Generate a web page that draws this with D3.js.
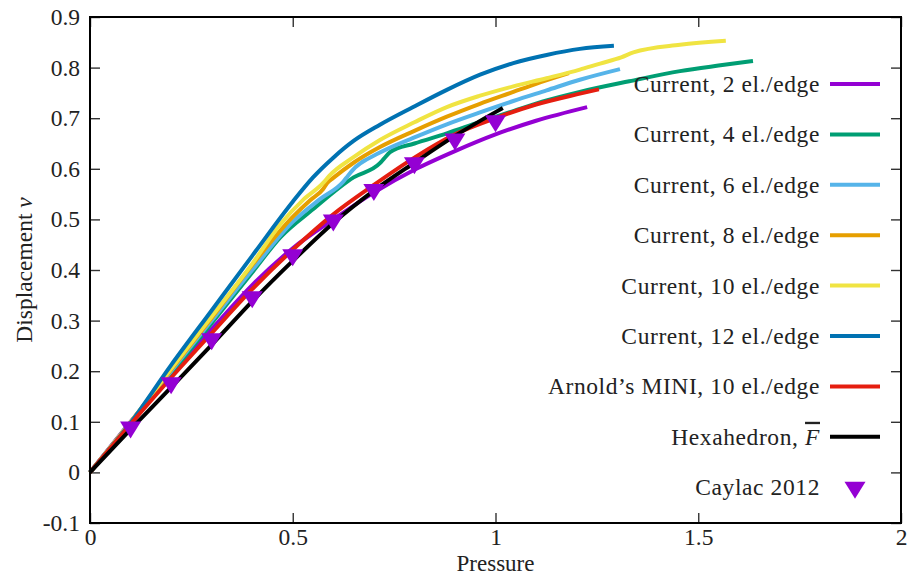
<!DOCTYPE html>
<html><head><meta charset="utf-8">
<script src="https://cdn.jsdelivr.net/npm/d3@7"></script>
<style>
html,body{margin:0;padding:0;background:#fff;}
svg text{font-family:"Liberation Serif","Times New Roman",serif;fill:#222;}
</style></head>
<body><svg id="c" width="910" height="577"></svg>
<script>
// ---- data ----
const xTicks = [0, 0.5, 1, 1.5, 2];
const yTicks = [-0.1, 0, 0.1, 0.2, 0.3, 0.4, 0.5, 0.6, 0.7, 0.8, 0.9];
const xTickLabels = ["0", "0.5", "1", "1.5", "2"];
const yTickLabels = ["-0.1", "0", "0.1", "0.2", "0.3", "0.4", "0.5", "0.6", "0.7", "0.8", "0.9"];

const seriesNames = ["Current, 2 el./edge", "Current, 4 el./edge", "Current, 6 el./edge",
  "Current, 8 el./edge", "Current, 10 el./edge", "Current, 12 el./edge",
  "Arnold\u2019s MINI, 10 el./edge", "Hexahedron, F"];
const seriesColors = ["#9400d3", "#009e73", "#56b4e9", "#e69f00", "#f0e442", "#0072b2", "#e51e10", "#000000"];

const p2 = [0, 0.1, 0.2, 0.3, 0.4, 0.5, 0.6, 0.7, 0.8, 0.9, 1.0, 1.1, 1.226];
const v2 = [0, 0.1, 0.195, 0.283, 0.37, 0.443, 0.50, 0.553, 0.598, 0.635, 0.668, 0.695, 0.722];

const p4 = [0, 0.1, 0.2, 0.3, 0.4, 0.47, 0.55, 0.65, 0.715, 0.725, 0.74, 0.8, 0.88, 0.96, 1.044, 1.126, 1.208, 1.33, 1.455, 1.55, 1.635];
const v4 = [0, 0.098, 0.195, 0.295, 0.395, 0.465, 0.52, 0.583, 0.611, 0.62, 0.633, 0.65, 0.67, 0.692, 0.714, 0.735, 0.752, 0.773, 0.793, 0.804, 0.813];

const p6 = [0, 0.1, 0.2, 0.3, 0.4, 0.5, 0.567, 0.625, 0.635, 0.645, 0.715, 0.8, 0.88, 0.96, 1.044, 1.126, 1.208, 1.307];
const v6 = [0, 0.099, 0.2, 0.3, 0.4, 0.495, 0.54, 0.575, 0.585, 0.595, 0.632, 0.662, 0.688, 0.711, 0.734, 0.755, 0.776, 0.797];

const p8 = [0, 0.1, 0.2, 0.3, 0.4, 0.5, 0.543, 0.575, 0.585, 0.6, 0.65, 0.715, 0.8, 0.88, 0.96, 1.044, 1.1, 1.181];
const v8 = [0, 0.099, 0.203, 0.305, 0.41, 0.505, 0.538, 0.56, 0.572, 0.582, 0.612, 0.643, 0.675, 0.703, 0.728, 0.752, 0.768, 0.789];

const p10 = [0, 0.1, 0.2, 0.3, 0.4, 0.469, 0.525, 0.575, 0.59, 0.65, 0.715, 0.8, 0.88, 0.96, 1.044, 1.126, 1.208, 1.258, 1.31, 1.34, 1.455, 1.568];
const v10 = [0, 0.099, 0.205, 0.308, 0.412, 0.49, 0.538, 0.572, 0.586, 0.623, 0.657, 0.692, 0.722, 0.744, 0.763, 0.779, 0.796, 0.808, 0.82, 0.83, 0.845, 0.853];

const p12 = [0, 0.1, 0.2, 0.3, 0.4, 0.5, 0.55, 0.6, 0.65, 0.715, 0.797, 0.88, 0.962, 1.044, 1.126, 1.208, 1.292];
const v12 = [0, 0.098, 0.212, 0.32, 0.428, 0.535, 0.583, 0.622, 0.655, 0.687, 0.722, 0.756, 0.786, 0.809, 0.825, 0.837, 0.843];

const pArn = [0, 0.1, 0.2, 0.3, 0.4, 0.5, 0.6, 0.7, 0.8, 0.9, 1.0, 1.1, 1.2, 1.255];
const vArn = [0, 0.095, 0.187, 0.275, 0.362, 0.44, 0.51, 0.568, 0.622, 0.668, 0.70, 0.727, 0.747, 0.757];

const pHex = [0, 0.1, 0.2, 0.3, 0.4, 0.5, 0.6, 0.7, 0.8, 0.9, 1.0, 1.018];
const vHex = [0, 0.085, 0.168, 0.252, 0.338, 0.418, 0.493, 0.557, 0.612, 0.665, 0.712, 0.72];

const pCay = [0.1, 0.2, 0.3, 0.4, 0.5, 0.6, 0.7, 0.8, 0.9, 1.0];
const vCay = [0.084, 0.171, 0.258, 0.341, 0.424, 0.493, 0.553, 0.606, 0.653, 0.689];
const cayName = "Caylac 2012";
const cayColor = "#9400d3";

const seriesP = [p2, p4, p6, p8, p10, p12, pArn, pHex];
const seriesV = [v2, v4, v6, v8, v10, v12, vArn, vHex];

// ---- layout ----
const L = 90, R = 901, T = 17, B = 523;
const FS = 23.5;
const svg = d3.select("#c");
const x = d3.scaleLinear().domain([0, 2]).range([L, R]);
const y = d3.scaleLinear().domain([-0.1, 0.9]).range([B, T]);

// ticks (inner, mirrored)
const tk = 10;
const g = svg.append("g");
g.append("g").attr("transform", `translate(0,${B})`)
  .call(d3.axisBottom(x).tickValues(xTicks).tickSizeInner(-tk).tickSizeOuter(0).tickFormat((d,i)=>xTickLabels[i]).tickPadding(5));
g.append("g").attr("transform", `translate(0,${T})`)
  .call(d3.axisTop(x).tickValues(xTicks).tickSizeInner(-tk).tickSizeOuter(0).tickFormat(""));
g.append("g").attr("transform", `translate(${L},0)`)
  .call(d3.axisLeft(y).tickValues(yTicks).tickSizeInner(-tk).tickSizeOuter(0).tickFormat((d,i)=>yTickLabels[i]).tickPadding(10));
g.append("g").attr("transform", `translate(${R},0)`)
  .call(d3.axisRight(y).tickValues(yTicks).tickSizeInner(-tk).tickSizeOuter(0).tickFormat(""));
g.selectAll(".domain").remove();
g.selectAll(".tick line").attr("stroke", "#333").attr("stroke-width", 1.4);
g.selectAll(".tick text").attr("font-size", FS).attr("font-family", "Liberation Serif").attr("fill", "#222");

// curves
const line = d3.line().x(d => x(d[0])).y(d => y(d[1])).curve(d3.curveMonotoneX);
seriesP.forEach((ps, i) => {
  const pts = ps.map((p, j) => [p, seriesV[i][j]]);
  svg.append("path").datum(pts).attr("d", line).attr("fill", "none")
    .attr("stroke", seriesColors[i]).attr("stroke-width", 4).attr("stroke-linejoin", "round");
});

// triangles
const triW = 21, triH = 17;
const tri = `M${-triW/2},${-triH/2} L${triW/2},${-triH/2} L0,${triH/2} Z`;
svg.selectAll(".cay").data(pCay.map((p, j) => [p, vCay[j]])).enter().append("path")
  .attr("transform", d => `translate(${x(d[0])},${y(d[1])})`).attr("d", tri).attr("fill", cayColor);

// frame
svg.append("rect").attr("x", L).attr("y", T).attr("width", R - L).attr("height", B - T)
  .attr("fill", "none").attr("stroke", "#000").attr("stroke-width", 2);

// legend
const legX = 820, legY0 = 84, legDy = 50.4;
seriesNames.forEach((nm, i) => {
  const yy = legY0 + i * legDy;
  const t = svg.append("text").attr("x", legX).attr("y", yy + 8).attr("text-anchor", "end")
    .attr("font-size", FS).attr("letter-spacing", 0.6);
  if (i === 7) {
    t.append("tspan").text("Hexahedron, ");
    t.append("tspan").attr("font-style", "italic").attr("text-decoration", "overline").text("F");
  } else t.text(nm);
  svg.append("line").attr("x1", 830).attr("x2", 880).attr("y1", yy).attr("y2", yy)
    .attr("stroke", seriesColors[i]).attr("stroke-width", 4);
});
{
  const yy = legY0 + 8 * legDy;
  svg.append("text").attr("x", legX).attr("y", yy + 8).attr("text-anchor", "end")
    .attr("font-size", FS).attr("letter-spacing", 0.6).text(cayName);
  svg.append("path").attr("transform", `translate(855,${yy + 3})`).attr("d", tri).attr("fill", cayColor);
}

// axis labels
svg.append("text").attr("x", (L + R) / 2).attr("y", 571).attr("text-anchor", "middle").attr("font-size", 23).text("Pressure");
const yl = svg.append("text").attr("transform", `translate(32,${(T + B) / 2}) rotate(-90)`).attr("text-anchor", "middle").attr("font-size", FS);
yl.append("tspan").text("Displacement ");
yl.append("tspan").attr("font-style", "italic").text("v");
</script></body></html>
